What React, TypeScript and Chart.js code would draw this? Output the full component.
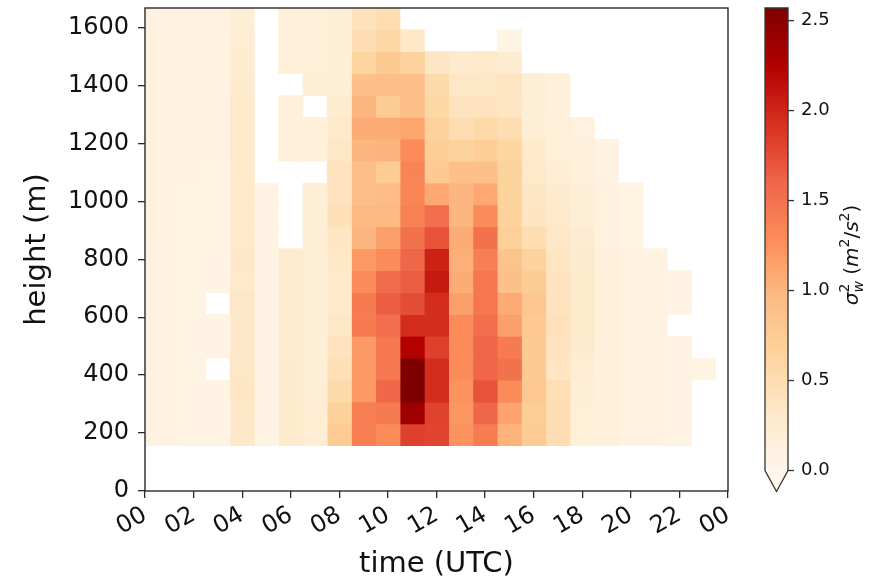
import React, { useEffect, useRef } from 'react';
import { Chart, registerables } from 'chart.js';

Chart.register(...registerables);

// ---------- data ----------
const hours = [0, 1, 2, 3, 4, 5, 6, 7, 8, 9, 10, 11, 12, 13, 14, 15, 16, 17, 18, 19, 20, 21, 22, 23];
// range-gate centres (m), bottom to top
const heights = [194, 269, 345, 421, 496, 572, 647, 723, 799, 874, 950, 1025, 1101, 1177, 1252, 1328, 1403, 1479, 1555, 1630];

// sigma_w^2 per hour, bottom gate -> top gate (null = no data)
const h00 = [0.10, 0.10, 0.11, 0.11, 0.12, 0.12, 0.12, 0.12, 0.12, 0.13, 0.13, 0.13, 0.13, 0.13, 0.13, 0.13, 0.13, 0.13, 0.13, 0.12];
const h01 = [0.10, 0.10, 0.10, 0.10, 0.10, 0.11, 0.11, 0.11, 0.11, 0.11, 0.11, 0.11, 0.12, 0.12, 0.12, 0.12, 0.12, 0.12, 0.12, 0.12];
const h02 = [0.08, 0.08, 0.08, 0.08, 0.08, 0.08, 0.08, 0.09, 0.09, 0.09, 0.09, 0.09, 0.10, 0.10, 0.10, 0.10, 0.10, 0.10, 0.10, 0.10];
const h03 = [0.07, 0.07, 0.07, null, 0.07, 0.07, null, 0.08, 0.08, 0.09, 0.09, 0.09, 0.09, 0.10, 0.10, 0.10, 0.10, 0.10, 0.10, 0.10];
const h04 = [0.32, 0.33, 0.35, 0.34, 0.33, 0.32, 0.34, 0.31, 0.32, 0.30, 0.30, 0.30, 0.30, 0.30, 0.30, 0.30, 0.28, 0.25, 0.22, 0.20];
const h05 = [0.07, 0.07, 0.08, 0.08, 0.08, 0.08, 0.08, 0.08, 0.07, 0.07, 0.07, 0.07, null, null, null, null, null, null, null, null];
const h06 = [0.28, 0.28, 0.27, 0.26, 0.25, 0.25, 0.25, 0.24, 0.24, null, null, null, null, 0.16, 0.16, 0.16, null, 0.16, 0.16, 0.16];
const h07 = [0.22, 0.22, 0.20, 0.20, 0.20, 0.20, 0.20, 0.20, 0.20, 0.20, 0.20, 0.20, null, 0.16, 0.16, null, 0.20, 0.18, 0.18, 0.18];
const h08 = [0.75, 0.68, 0.55, 0.45, 0.40, 0.33, 0.30, 0.30, 0.32, 0.36, 0.45, 0.40, 0.40, 0.33, 0.30, 0.24, 0.20, 0.20, 0.20, 0.20];
const h09 = [1.40, 1.40, 1.20, 1.20, 1.20, 1.43, 1.43, 1.30, 1.20, 1.00, 0.98, 0.90, 0.92, 1.00, 1.07, 1.00, 0.90, 0.63, 0.50, 0.42];
const h10 = [1.30, 1.43, 1.58, 1.45, 1.45, 1.53, 1.65, 1.55, 1.30, 1.15, 0.98, 0.95, 0.76, 1.02, 1.07, 0.75, 0.92, 0.78, 0.58, 0.50];
const h11 = [1.83, 2.38, 2.57, 2.57, 2.25, 1.95, 1.75, 1.65, 1.60, 1.50, 1.38, 1.34, 1.36, 1.30, 1.12, 0.92, 0.92, 0.66, 0.32, null];
const h12 = [1.80, 1.82, 1.95, 1.95, 1.83, 1.95, 1.95, 2.08, 2.03, 1.72, 1.53, 1.10, 0.77, 0.72, 0.67, 0.60, 0.55, 0.35, null, null];
const h13 = [1.25, 1.22, 1.25, 1.30, 1.30, 1.30, 1.15, 1.07, 1.05, 1.07, 1.00, 1.00, 0.90, 0.66, 0.50, 0.40, 0.34, 0.27, null, null];
const h14 = [1.42, 1.60, 1.72, 1.60, 1.60, 1.53, 1.47, 1.47, 1.40, 1.50, 1.30, 1.10, 0.90, 0.72, 0.57, 0.40, 0.34, 0.30, null, null];
const h15 = [1.03, 1.13, 1.30, 1.50, 1.43, 1.15, 1.08, 0.90, 0.86, 0.70, 0.65, 0.66, 0.65, 0.62, 0.50, 0.36, 0.37, 0.24, 0.08, null];
const h16 = [0.75, 0.73, 0.80, 0.77, 0.77, 0.80, 0.83, 0.76, 0.67, 0.50, 0.38, 0.35, 0.30, 0.30, 0.20, 0.20, 0.20, null, null, null];
const h17 = [0.50, 0.50, 0.48, 0.36, 0.40, 0.43, 0.40, 0.40, 0.37, 0.32, 0.30, 0.26, 0.20, 0.17, 0.17, 0.14, 0.14, null, null, null];
const h18 = [0.18, 0.18, 0.20, 0.22, 0.26, 0.28, 0.28, 0.28, 0.26, 0.23, 0.20, 0.20, 0.14, 0.14, 0.12, null, null, null, null, null];
const h19 = [0.15, 0.15, 0.15, 0.15, 0.15, 0.15, 0.15, 0.15, 0.14, 0.13, 0.13, 0.13, 0.10, 0.10, null, null, null, null, null, null];
const h20 = [0.11, 0.11, 0.11, 0.11, 0.11, 0.11, 0.11, 0.11, 0.11, 0.09, 0.09, 0.09, null, null, null, null, null, null, null, null];
const h21 = [0.10, 0.10, 0.10, 0.10, 0.10, 0.10, 0.10, 0.10, 0.10, null, null, null, null, null, null, null, null, null, null, null];
const h22 = [0.08, 0.08, 0.08, 0.08, 0.08, null, 0.08, 0.08, null, null, null, null, null, null, null, null, null, null, null, null];
const h23 = [null, null, null, 0.07, null, null, null, null, null, null, null, null, null, null, null, null, null, null, null, null];

const columns = [h00, h01, h02, h03, h04, h05, h06, h07, h08, h09, h10, h11, h12, h13, h14, h15, h16, h17, h18, h19, h20, h21, h22, h23];

const xTickStep = 2;
const yTickStep = 200;
const cbTicks = [0, 0.5, 1.0, 1.5, 2.0, 2.5];
const vmin = 0;
const vmax = 2.57;

// ---------- colormap (OrRd) ----------
const OrRd = [
  [255, 247, 236], [254, 232, 200], [253, 212, 158], [253, 187, 132], [252, 141, 89],
  [239, 101, 72], [215, 48, 31], [179, 0, 0], [127, 0, 0],
];
function cmap(t: number): string {
  const c = Math.max(0, Math.min(1, t));
  const s = c * (OrRd.length - 1);
  const i = Math.min(OrRd.length - 2, Math.floor(s));
  const f = s - i;
  const a = OrRd[i], b = OrRd[i + 1];
  const r = Math.round(a[0] + (b[0] - a[0]) * f);
  const g = Math.round(a[1] + (b[1] - a[1]) * f);
  const bl = Math.round(a[2] + (b[2] - a[2]) * f);
  return `rgb(${r},${g},${bl})`;
}
const colorOf = (v: number) => cmap((v - vmin) / (vmax - vmin));

// cell edges from gate centres
const edges: number[] = [];
for (let i = 0; i <= heights.length; i++) {
  if (i === 0) edges.push(heights[0] - (heights[1] - heights[0]) / 2);
  else if (i === heights.length) edges.push(heights[i - 1] + (heights[i - 1] - heights[i - 2]) / 2);
  else edges.push((heights[i - 1] + heights[i]) / 2);
}
const yMax = edges[edges.length - 1];

const FONT = "'DejaVu Sans', 'Liberation Sans', sans-serif";
const INK = '#111';

const framePlugin = {
  id: 'frameAndColorbar',
  afterDraw(chart: any) {
    const { ctx, chartArea: a } = chart;
    ctx.save();
    // axes frame
    ctx.strokeStyle = '#2a2a2a';
    ctx.lineWidth = 1.4;
    ctx.strokeRect(a.left, a.top, a.right - a.left, a.bottom - a.top);

    // colorbar
    const x0 = 765, x1 = 788;
    const top = a.top;
    const rectBottom = a.bottom - 20.5;
    const triBottom = a.bottom + 0.5;
    const xc = (x0 + x1) / 2;
    const grad = ctx.createLinearGradient(0, rectBottom, 0, top);
    OrRd.forEach((c, i) => grad.addColorStop(i / (OrRd.length - 1), `rgb(${c[0]},${c[1]},${c[2]})`));
    ctx.fillStyle = grad;
    ctx.fillRect(x0, top, x1 - x0, rectBottom - top);
    ctx.beginPath();
    ctx.moveTo(x0, rectBottom);
    ctx.lineTo(x1, rectBottom);
    ctx.lineTo(xc, triBottom);
    ctx.closePath();
    ctx.fillStyle = cmap(0);
    ctx.fill();
    ctx.beginPath();
    ctx.moveTo(x0, top);
    ctx.lineTo(x1, top);
    ctx.lineTo(x1, rectBottom);
    ctx.lineTo(xc, triBottom);
    ctx.lineTo(x0, rectBottom);
    ctx.closePath();
    ctx.strokeStyle = '#333';
    ctx.lineWidth = 1.3;
    ctx.stroke();

    // colorbar ticks
    ctx.fillStyle = INK;
    ctx.font = `18px ${FONT}`;
    ctx.textAlign = 'left';
    ctx.textBaseline = 'middle';
    cbTicks.forEach((v) => {
      const y = rectBottom - ((v - vmin) / (vmax - vmin)) * (rectBottom - top);
      ctx.beginPath();
      ctx.moveTo(x1, y);
      ctx.lineTo(x1 + 6, y);
      ctx.stroke();
      ctx.fillText(v.toFixed(1), x1 + 13, y);
    });

    // colorbar label: sigma_w^2 (m^2/s^2)
    const big = 20, small = 14;
    type Piece = { t: string; it: boolean; size: number; dy: number; advance: boolean };
    const pieces: Piece[] = [
      { t: 'σ', it: true, size: big, dy: 0, advance: false },
      { t: '2', it: false, size: small, dy: -9, advance: false },
      { t: 'w', it: true, size: small, dy: 5, advance: true },
      { t: ' (', it: false, size: big, dy: 0, advance: true },
      { t: 'm', it: true, size: big, dy: 0, advance: true },
      { t: '2', it: false, size: small, dy: -9, advance: true },
      { t: '/', it: false, size: big, dy: 0, advance: true },
      { t: 's', it: true, size: big, dy: 0, advance: true },
      { t: '2', it: false, size: small, dy: -9, advance: true },
      { t: ')', it: false, size: big, dy: 0, advance: true },
    ];
    // sigma advances normally; sup/sub share a slot
    pieces[0].advance = true;
    const setF = (p: Piece) => { ctx.font = `${p.it ? 'italic ' : ''}${p.size}px ${FONT}`; };
    let total = 0;
    let pend = 0;
    pieces.forEach((p) => {
      setF(p);
      const w = ctx.measureText(p.t).width;
      if (p.advance) { total += Math.max(w, pend); pend = 0; } else { pend = w; }
    });
    ctx.translate(851, 255);
    ctx.rotate(-Math.PI / 2);
    ctx.textAlign = 'left';
    ctx.textBaseline = 'alphabetic';
    let x = -total / 2;
    pend = 0;
    pieces.forEach((p) => {
      setF(p);
      const w = ctx.measureText(p.t).width;
      ctx.fillText(p.t, x, 7 + p.dy);
      if (p.advance) { x += Math.max(w, pend); pend = 0; } else { pend = w; }
    });
    ctx.restore();
  },
};

export default function App() {
  const ref = useRef<HTMLCanvasElement | null>(null);

  useEffect(() => {
    if (!ref.current) return;
    const datasets = hours.map((h, k) => {
      const cells: { x: number; y: [number, number]; v: number }[] = [];
      columns[k].forEach((v, i) => {
        if (v !== null && v !== undefined) cells.push({ x: h, y: [edges[i], edges[i + 1]], v: v as number });
      });
      return {
        label: String(h).padStart(2, '0'),
        data: cells,
        backgroundColor: cells.map((c) => colorOf(c.v)),
        borderWidth: 0,
        barPercentage: 1,
        categoryPercentage: 1,
      };
    });

    const chart = new Chart(ref.current, {
      type: 'bar',
      data: { datasets: datasets as any },
      options: {
        animation: false,
        responsive: false,
        devicePixelRatio: 1,
        layout: { padding: { top: 8, right: 151, left: 0, bottom: 0 } },
        plugins: { legend: { display: false }, tooltip: { enabled: false } },
        events: [],
        scales: {
          x: {
            type: 'linear',
            min: 0,
            max: 24,
            offset: false,
            stacked: true,
            border: { display: false },
            grid: { offset: false, drawOnChartArea: false, drawTicks: true, tickLength: 7, color: '#2a2a2a', lineWidth: 1.3 },
            ticks: {
              stepSize: xTickStep,
              autoSkip: false,
              minRotation: 30,
              maxRotation: 30,
              padding: 3,
              color: INK,
              font: { family: FONT, size: 24 },
              callback: (v: any) => String(Number(v) % 24).padStart(2, '0'),
            },
            title: { display: true, text: 'time (UTC)', color: INK, font: { family: FONT, size: 29 }, padding: { top: 0, bottom: 0 } },
            afterFit: (s: any) => { s.height = 91; s.paddingLeft = 0; s.paddingRight = 0; },
          } as any,
          y: {
            type: 'linear',
            min: 0,
            max: yMax,
            stacked: false,
            border: { display: false },
            grid: { drawOnChartArea: false, drawTicks: true, tickLength: 7, color: '#2a2a2a', lineWidth: 1.3 },
            ticks: {
              stepSize: yTickStep,
              includeBounds: false,
              padding: 9,
              color: INK,
              font: { family: FONT, size: 24 },
              callback: (v: any) => String(v),
            },
            title: { display: true, text: 'height (m)', color: INK, font: { family: FONT, size: 29 }, padding: { top: 20, bottom: 0 } },
            afterFit: (s: any) => { s.width = 145; s.paddingTop = 0; s.paddingBottom = 0; },
          } as any,
        },
      },
      plugins: [framePlugin],
    });
    return () => chart.destroy();
  }, []);

  return (
    <div style={{ position: 'absolute', left: 0, top: 0, width: 879, height: 582, background: '#fff' }}>
      <canvas ref={ref} width={879} height={582} style={{ display: 'block' }} />
    </div>
  );
}
